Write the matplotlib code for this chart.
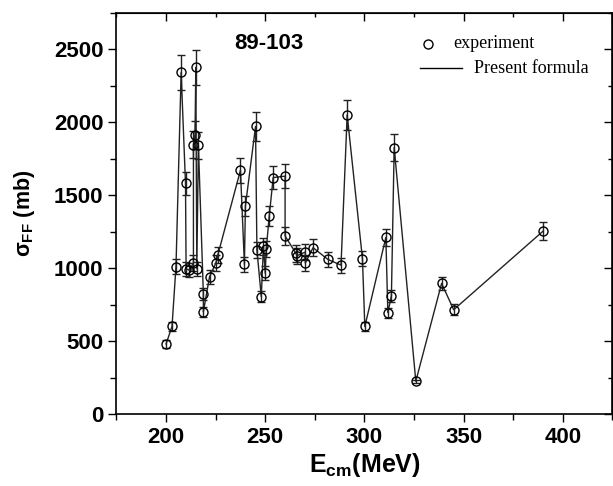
import matplotlib
matplotlib.use("Agg")
import matplotlib.pyplot as plt
from matplotlib.ticker import MultipleLocator

# data (E_cm in MeV, sigma_FF in mb)
energy = [200, 203, 205, 207.6, 209.8, 210.1, 211.8, 213.8, 213.8, 214.6,
          215.0, 215.5, 216.3, 218.8, 218.8, 221.9, 225.1, 226.1, 237.5, 239.5,
          240.0, 245.1, 245.8, 248.0, 249.1, 250.0, 250.5, 252.0, 254.0, 260.0,
          260.0, 265.5, 266.0, 270.2, 270.2, 274.1, 281.5, 288.2, 291.3, 299.0,
          300.2, 310.8, 311.8, 313.6, 315.0, 325.9, 338.9, 345.0, 390.2]
sigma = [480, 600, 1010, 2340, 1580, 995, 985, 1035, 1845, 1915,
         2375, 995, 1840, 825, 700, 940, 1035, 1090, 1670, 1025,
         1425, 1970, 1125, 805, 1150, 965, 1130, 1355, 1620, 1630,
         1220, 1100, 1085, 1110, 1035, 1140, 1060, 1020, 2050, 1065,
         600, 1210, 695, 810, 1825, 225, 895, 715, 1255]
sigma_err = [24, 30, 50, 117, 79, 50, 49, 52, 92, 96,
             119, 50, 92, 41, 35, 47, 52, 55, 84, 51,
             71, 99, 56, 40, 58, 48, 57, 68, 81, 82,
             61, 55, 54, 56, 52, 57, 53, 51, 103, 53,
             30, 61, 35, 41, 91, 11, 45, 36, 63]

plt.rcParams['font.family'] = ['Liberation Sans', 'DejaVu Sans']
plt.rcParams['mathtext.fontset'] = 'custom'
plt.rcParams['mathtext.bf'] = 'Liberation Sans:bold'
plt.rcParams['mathtext.rm'] = 'Liberation Sans:bold'
plt.rcParams['mathtext.it'] = 'Liberation Sans:bold'
plt.rcParams['mathtext.default'] = 'bf'

fig = plt.figure(figsize=(6.13, 4.86), dpi=100)
ax = fig.add_axes([0.190, 0.148, 0.809, 0.826])

# formula line through the points
ax.plot(energy, sigma, '-', color='#222222', lw=1.0, zorder=2)

# experimental points with error bars
ax.errorbar(energy, sigma, yerr=sigma_err, fmt='o', mfc='none', mec='black',
            ms=6.5, mew=1.0, ecolor='#222222', elinewidth=1.0, capsize=3,
            capthick=1.0, zorder=3)

ax.set_xlim(175, 425)
ax.set_ylim(0, 2750)
ax.xaxis.set_major_locator(MultipleLocator(50))
ax.xaxis.set_minor_locator(MultipleLocator(25))
ax.yaxis.set_major_locator(MultipleLocator(500))
ax.yaxis.set_minor_locator(MultipleLocator(250))
ax.tick_params(which='both', direction='out', width=1.0, labelsize=16)
ax.tick_params(which='major', length=6)
ax.tick_params(which='minor', length=4)
for lab in ax.get_xticklabels() + ax.get_yticklabels():
    lab.set_fontweight('bold')
for sp in ax.spines.values():
    sp.set_linewidth(1.2)

# inward ticks on the top and right frame
top = ax.secondary_xaxis('top')
top.xaxis.set_major_locator(MultipleLocator(50))
top.xaxis.set_minor_locator(MultipleLocator(25))
top.tick_params(which='both', direction='in', labeltop=False, width=1.0)
top.tick_params(which='major', length=6)
top.tick_params(which='minor', length=3)
right = ax.secondary_yaxis('right')
right.yaxis.set_major_locator(MultipleLocator(500))
right.yaxis.set_minor_locator(MultipleLocator(250))
right.tick_params(which='both', direction='in', labelright=False, width=1.0)
right.tick_params(which='major', length=6)
right.tick_params(which='minor', length=3)

ax.set_xlabel(r'$E_{cm}$(MeV)', fontsize=18, fontweight='bold', labelpad=2)
ax.set_ylabel(r'$\sigma_{FF}$ (mb)', fontsize=15.5, fontweight='bold', labelpad=12)

ax.text(0.238, 0.922, '89-103', transform=ax.transAxes, fontsize=16,
        fontweight='bold', va='center', ha='left')

# legend drawn by hand to follow the reference layout
ax.plot([0.628], [0.922], 'o', mfc='none', mec='black', ms=6.5, mew=1.0,
        transform=ax.transAxes)
ax.text(0.679, 0.922, 'experiment', transform=ax.transAxes, fontsize=13,
        family='Liberation Serif', va='center', ha='left')
ax.plot([0.612, 0.697], [0.862, 0.862], '-', color='black', lw=1.0,
        transform=ax.transAxes)
ax.text(0.721, 0.862, 'Present formula', transform=ax.transAxes, fontsize=13,
        family='Liberation Serif', va='center', ha='left')

fig.savefig('out.png', dpi=100)
